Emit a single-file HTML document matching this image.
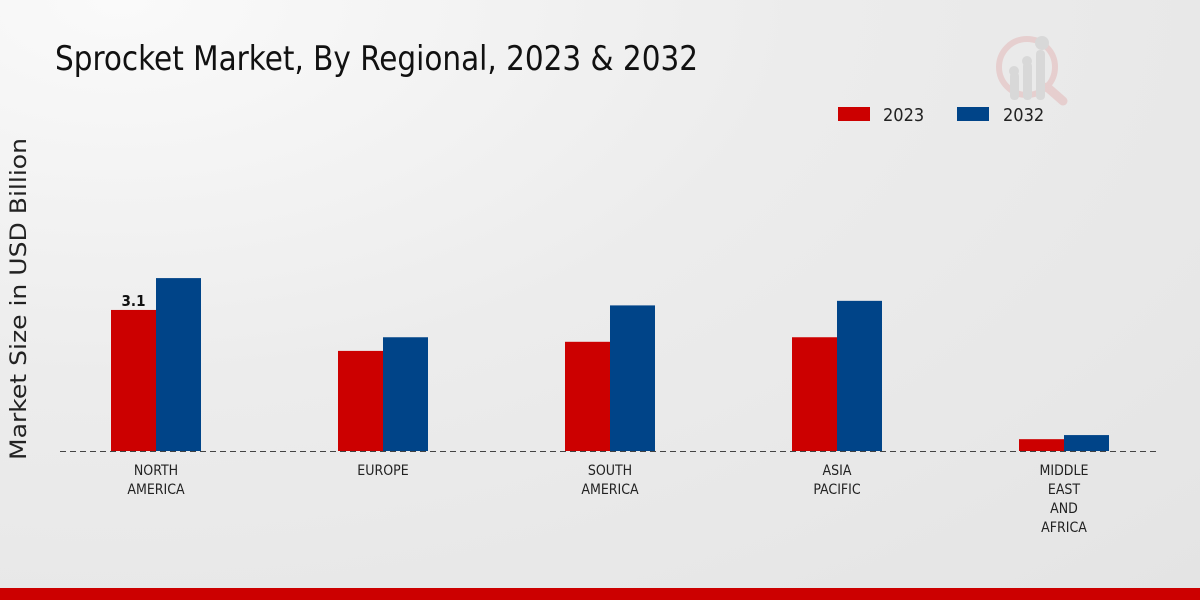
<!DOCTYPE html>
<html><head><meta charset="utf-8"><style>
html,body{margin:0;padding:0;width:1200px;height:600px;overflow:hidden}
body{background:radial-gradient(ellipse at 10% 0%,#fafafa 0%,#ececec 45%,#e4e4e4 100%);font-family:"DejaVu Sans Condensed","Liberation Sans",sans-serif}
svg{position:absolute;left:0;top:0}
</style></head><body>
<svg width="1200" height="600">
<text x="55" y="70" font-size="34" fill="#111" textLength="643" lengthAdjust="spacingAndGlyphs">Sprocket Market, By Regional, 2023 &amp; 2032</text>
<g opacity="0.5">
<circle cx="1027" cy="67" r="28" fill="none" stroke="#e3b5b5" stroke-width="6"/>
<line x1="1047" y1="87" x2="1063" y2="101" stroke="#e3b5b5" stroke-width="9" stroke-linecap="round"/>
<rect x="1010" y="72" width="9" height="28" rx="4" fill="#c8c8c8"/>
<rect x="1023" y="62" width="9" height="38" rx="4" fill="#c8c8c8"/>
<rect x="1036" y="50" width="9" height="50" rx="4" fill="#c8c8c8"/>
<circle cx="1014" cy="71" r="5" fill="#c8c8c8"/><circle cx="1027" cy="61" r="5" fill="#c8c8c8"/><circle cx="1042" cy="43" r="7" fill="#c8c8c8"/>
</g>
<g>
<rect x="838" y="107" width="32" height="14" fill="#cc0000"/>
<text x="883" y="121" font-size="18" fill="#222">2023</text>
<rect x="957" y="107" width="32" height="14" fill="#004488"/>
<text x="1003" y="121" font-size="18" fill="#222">2032</text>
</g>
<text transform="translate(26,299) rotate(-90)" text-anchor="middle" font-family="DejaVu Sans, sans-serif" font-size="22" fill="#222" textLength="322" lengthAdjust="spacingAndGlyphs">Market Size in USD Billion</text>
<line x1="60" y1="451.5" x2="1160" y2="451.5" stroke="#444" stroke-dasharray="6,4"/>
<g id="bars"></g>
<rect x="0" y="588" width="1200" height="12" fill="#cc0000"/>
</svg>
<script>
const categories=[["NORTH","AMERICA"],["EUROPE"],["SOUTH","AMERICA"],["ASIA","PACIFIC"],["MIDDLE","EAST","AND","AFRICA"]];
const values2023=[3.1,2.2,2.4,2.5,0.26];
const values2032=[3.8,2.5,3.2,3.3,0.35];
const labels2023=["3.1",null,null,null,null];
const ns="http://www.w3.org/2000/svg";
const g=document.getElementById('bars');
const base=451,scale=45.5,x0=156,step=227,bw=45;
const y=v=>base-v*scale;
const xc=i=>x0+i*step;
function mk(t,a){const e=document.createElementNS(ns,t);for(const k in a)e.setAttribute(k,a[k]);g.appendChild(e);return e;}
categories.forEach((c,i)=>{
 const r1=mk('rect',{x:xc(i)-bw,y:y(values2023[i]),width:bw,height:values2023[i]*scale,fill:'#cc0000'});
 
 
 const r2=mk('rect',{x:xc(i),y:y(values2032[i]),width:bw,height:values2032[i]*scale,fill:'#004488'});
 
 
 if(labels2023[i]){const t=mk('text',{x:xc(i)-bw/2,y:y(values2023[i])-4,'text-anchor':'middle','font-size':15,'font-weight':'bold',fill:'#111'});t.textContent=labels2023[i];
 
 }
 c.forEach((ln,j)=>{const t=mk('text',{x:xc(i),y:475+j*19,'text-anchor':'middle','font-size':14,fill:'#222'});t.textContent=ln;
 
 });
});
</script>
</body></html>
